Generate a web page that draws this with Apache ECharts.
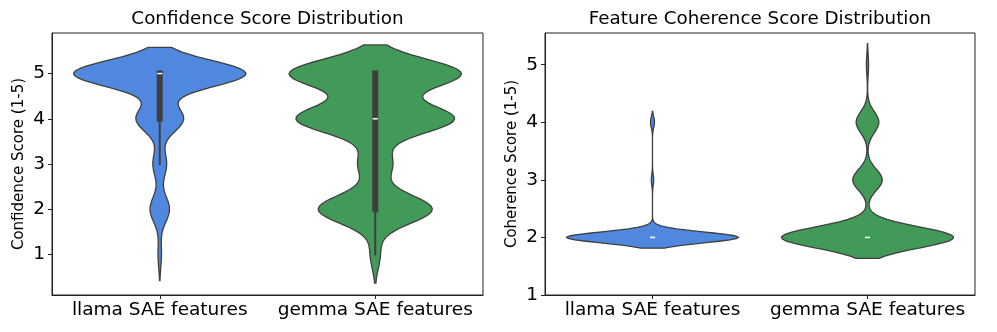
<!DOCTYPE html>
<html><head><meta charset="utf-8">
<script src="https://cdn.jsdelivr.net/npm/echarts@6/dist/echarts.min.js"></script>
<style>html,body{margin:0;padding:0;background:#fff}#c{width:997px;height:332px}</style>
</head><body><div id="c"></div>
<script>
// ---- data ----
const categories = ['llama SAE features', 'gemma SAE features'];
const scoreLevels = [1, 2, 3, 4, 5];
// number of features with each score 1..5
const confidenceLlama = [6, 34, 24, 83, 302];
const confidenceGemma = [17, 196, 58, 271, 295];
const coherenceLlama = [0, 430, 6, 10, 0];
const coherenceGemma = [0, 636, 109, 84, 8];
const yTicks = [1, 2, 3, 4, 5];
const titles = ['Confidence Score Distribution', 'Feature Coherence Score Distribution'];
const yNames = ['Confidence Score (1-5)', 'Coherence Score (1-5)'];
const colors = ['#5088E0', '#419A58'];

// ---- stats (gaussian KDE, Scott bandwidth, cut=2, gridsize=100) ----
function expand(counts) { const v = []; counts.forEach((c, i) => { for (let k = 0; k < c; k++) v.push(scoreLevels[i]); }); return v; }
function quantile(s, p) { const pos = (s.length - 1) * p; const i = Math.floor(pos); const f = pos - i; return i + 1 < s.length ? s[i] + f * (s[i + 1] - s[i]) : s[i]; }
function boxStats(x) {
  const s = x.slice().sort((a, b) => a - b);
  const q1 = quantile(s, .25), med = quantile(s, .5), q3 = quantile(s, .75);
  const iqr = q3 - q1;
  const lw = s.find(v => v >= q1 - 1.5 * iqr);
  const uw = s.slice().reverse().find(v => v <= q3 + 1.5 * iqr);
  return { q1, med, q3, lw, uw };
}
function violin(counts) {
  const x = expand(counts); const n = x.length;
  const mean = x.reduce((a, b) => a + b, 0) / n;
  const variance = x.reduce((a, b) => a + (b - mean) ** 2, 0) / (n - 1);
  const bw = Math.sqrt(variance) * Math.pow(n, -0.2);
  const lo = Math.min(...x) - 2 * bw, hi = Math.max(...x) + 2 * bw;
  const ys = [], ds = [];
  const G = 100;
  for (let i = 0; i < G; i++) {
    const y = lo + (hi - lo) * i / (G - 1);
    let d = 0;
    counts.forEach((c, j) => { if (c) d += c * Math.exp(-0.5 * ((y - scoreLevels[j]) / bw) ** 2); });
    ys.push(y); ds.push(d);
  }
  const mx = Math.max(...ds);
  return { ys, ws: ds.map(d => d / mx), lo, hi, st: boxStats(x) };
}
const panels = [
  [violin(confidenceLlama), violin(confidenceGemma)],
  [violin(coherenceLlama), violin(coherenceGemma)]
];
function yRange(vs, fixedMin) {
  const lo = Math.min(...vs.map(v => v.lo)), hi = Math.max(...vs.map(v => v.hi));
  const m = 0.05 * (hi - lo);
  return [fixedMin != null ? fixedMin : lo - m, hi + m];
}
const ranges = [yRange(panels[0]), yRange(panels[1], 1)];

const FONT = 'DejaVu Sans';
const EDGE = '#3f3f3f';

function series(g) {
  const vs = panels[g];
  return {
    type: 'custom', xAxisIndex: g, yAxisIndex: g,
    data: vs.map((v, i) => [i, v.st.med]),
    encode: { x: 0, y: 1 },
    silent: true,
    renderItem: function (params, api) {
      const i = api.value(0); const v = vs[i];
      const half = api.size([1, 0])[0] * 0.4;
      const cx = api.coord([i, v.st.med])[0];
      const right = [], left = [];
      for (let k = 0; k < v.ys.length; k++) {
        const py = api.coord([i, v.ys[k]])[1];
        right.push([cx + v.ws[k] * half, py]);
        left.push([cx - v.ws[k] * half, py]);
      }
      const pts = right.concat(left.reverse());
      const ch = [{ type: 'polygon', shape: { points: pts }, style: { fill: colors[i], stroke: EDGE, lineWidth: 1.3 } }];
      const st = v.st;
      const yl = api.coord([i, st.lw])[1], yu = api.coord([i, st.uw])[1];
      const y1 = api.coord([i, st.q1])[1], y3 = api.coord([i, st.q3])[1];
      const ym = api.coord([i, st.med])[1];
      if (Math.abs(yl - yu) > 0.5) {
        ch.push({ type: 'rect', shape: { x: cx - 1, y: yu - 1, width: 2, height: yl - yu + 2 }, style: { fill: EDGE } });
      }
      if (Math.abs(y1 - y3) > 0.5) {
        ch.push({ type: 'rect', shape: { x: cx - 3, y: y3 - 3, width: 6, height: y1 - y3 + 6 }, style: { fill: EDGE } });
      }
      ch.push({ type: 'rect', shape: { x: cx - 2.5, y: ym - 0.75, width: 5, height: 1.5 }, style: { fill: '#ffffff' } });
      return { type: 'group', children: ch };
    }
  };
}

const grids = [
  { left: 52, right: 514, top: 33, bottom: 37 },
  { left: 545, right: 22, top: 33, bottom: 37 }
];
const option = {
  animation: false,
  backgroundColor: '#fff',
  grid: grids.map(g => Object.assign({ show: true, borderColor: '#222', borderWidth: 1, backgroundColor: 'transparent' }, g)),
  graphic: [
    { type: 'text', x: (52 + 483) / 2, y: 19.5, style: { text: titles[0], font: '18.3px "DejaVu Sans"', fill: '#000', textAlign: 'center', textVerticalAlign: 'middle' } },
    { type: 'text', x: (545 + 975) / 2, y: 19.5, style: { text: titles[1], font: '18.3px "DejaVu Sans"', fill: '#000', textAlign: 'center', textVerticalAlign: 'middle' } }
  ],
  xAxis: [0, 1].map(g => ({
    type: 'category', gridIndex: g, data: categories, boundaryGap: true,
    axisLine: { show: true, lineStyle: { color: '#222', width: 1 } },
    axisTick: { show: true, alignWithLabel: true, length: 4, lineStyle: { color: '#222' } },
    axisLabel: { fontSize: 18.5, fontFamily: FONT, color: '#000', margin: 6, interval: 0, hideOverlap: false },
    splitLine: { show: false }
  })),
  yAxis: [0, 1].map(g => ({
    type: 'value', gridIndex: g, min: ranges[g][0], max: ranges[g][1],
    name: yNames[g], nameLocation: 'middle', nameGap: 25,
    nameTextStyle: { fontSize: 15, fontFamily: FONT, color: '#000' },
    axisLine: { show: true, lineStyle: { color: '#222', width: 1 } },
    axisTick: { show: true, length: 4, customValues: yTicks, lineStyle: { color: '#222' } },
    axisLabel: { fontSize: 18.5, fontFamily: FONT, color: '#000', margin: 7, customValues: yTicks },
    splitLine: { show: false }
  })),
  series: [series(0), series(1)]
};
const chart = echarts.init(document.getElementById('c'), null, { renderer: 'canvas' });
chart.setOption(option);
</script>
</body></html>
